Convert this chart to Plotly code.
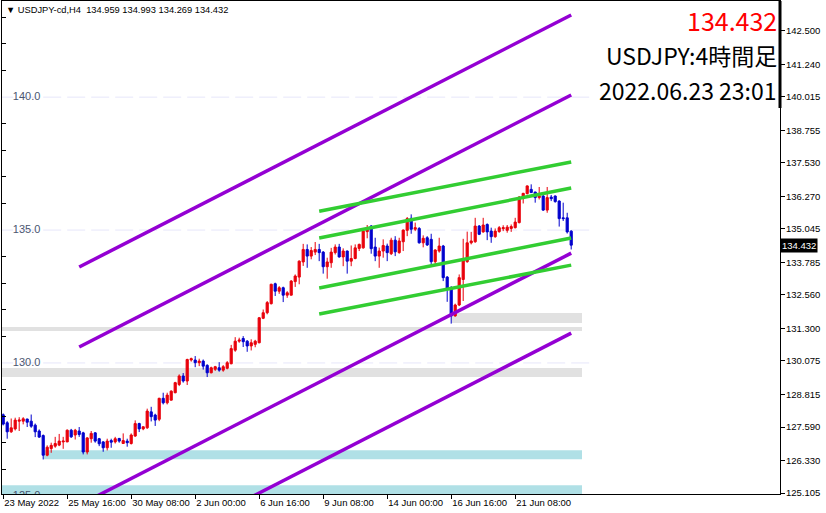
import plotly.graph_objects as go

# USDJPY-cd H4 candles, 23 May - 23 Jun 2022
opens = [128.05, 127.75, 127.41, 127.52, 127.81, 127.81, 127.89, 127.81, 127.66, 127.44,
         127.27, 126.53, 126.78, 126.87, 126.91, 127.03, 127.03, 127.47, 127.29, 127.44,
         127.37, 126.65, 127.15, 127.37, 127.15, 127.03, 126.81, 127.08, 127.03, 127.16,
         126.97, 127.06, 126.97, 127.25, 127.72, 127.52, 127.56, 128.16, 128.04, 127.88,
         128.67, 128.50, 128.60, 128.88, 129.19, 129.51, 129.32, 130.11, 130.11, 130.01,
         130.07, 129.91, 129.63, 129.76, 129.82, 129.73, 129.80, 129.97, 130.48, 130.82,
         130.92, 130.82, 130.64, 130.70, 130.76, 131.68, 131.89, 132.23, 132.98, 132.70,
         132.83, 132.55, 132.55, 133.06, 133.23, 133.80, 134.27, 134.02, 134.17, 134.27,
         134.17, 133.62, 133.77, 134.15, 134.36, 133.99, 134.21, 133.83, 133.93, 134.31,
         134.33, 134.94, 135.15, 134.36, 134.02, 134.21, 134.40, 134.11, 134.62, 134.15,
         134.56, 134.99, 135.44, 135.03, 135.06, 134.52, 134.71, 134.65, 133.81, 134.21,
         134.40, 133.23, 132.83, 131.77, 132.18, 133.14, 133.81, 134.52, 134.56, 135.15,
         134.93, 135.21, 134.96, 134.75, 134.94, 135.05, 134.99, 135.06, 135.09, 135.28,
         136.22, 136.37, 136.53, 136.43, 136.22, 136.28, 135.75, 136.24, 136.28, 136.09,
         135.46, 135.46, 134.959]
highs = [128.10, 127.81, 127.91, 127.94, 127.96, 127.96, 127.90, 128.06, 127.72, 127.50,
         127.31, 126.90, 127.00, 127.22, 127.33, 127.22, 127.50, 127.52, 127.52, 127.59,
         127.41, 127.21, 127.44, 127.40, 127.18, 127.06, 127.15, 127.15, 127.22, 127.18,
         127.35, 127.15, 127.35, 127.84, 127.75, 127.62, 128.28, 128.35, 128.09, 128.69,
         128.88, 128.88, 128.97, 129.29, 129.57, 129.62, 130.16, 130.20, 130.26, 130.16,
         130.13, 129.95, 129.86, 129.89, 130.03, 129.92, 130.07, 130.68, 130.97, 130.95,
         131.01, 130.86, 130.89, 130.87, 131.73, 132.01, 132.33, 132.98, 133.02, 132.89,
         132.87, 132.70, 133.12, 133.33, 133.86, 134.48, 134.46, 134.36, 134.55, 134.48,
         134.21, 133.96, 134.33, 134.46, 134.48, 134.31, 134.23, 134.42, 134.46, 134.49,
         134.99, 135.19, 135.19, 134.71, 134.34, 134.65, 134.49, 134.71, 134.77, 134.71,
         135.02, 135.49, 135.59, 135.28, 135.11, 134.80, 134.77, 134.86, 134.28, 134.71,
         134.44, 133.27, 132.89, 132.23, 133.33, 134.67, 134.94, 134.93, 135.46, 135.19,
         135.46, 135.25, 135.09, 135.06, 135.15, 135.18, 135.19, 135.21, 135.46, 136.28,
         136.40, 136.68, 136.72, 136.44, 136.62, 136.32, 136.62, 136.32, 136.30, 136.12,
         136.03, 135.65, 134.993]
lows = [127.65, 127.15, 127.37, 127.46, 127.44, 127.69, 127.59, 127.56, 127.21, 127.18,
        126.37, 126.49, 126.62, 126.81, 126.87, 126.77, 127.02, 127.18, 127.12, 127.22,
        126.56, 126.56, 127.00, 127.00, 126.87, 126.66, 126.71, 126.81, 126.97, 127.00,
        126.96, 126.85, 126.93, 127.22, 127.40, 127.47, 127.52, 127.80, 127.63, 127.81,
        128.44, 128.44, 128.59, 128.86, 129.13, 129.26, 129.17, 130.05, 129.84, 129.88,
        129.75, 129.47, 129.61, 129.70, 129.67, 129.67, 129.76, 129.95, 130.42, 130.76,
        130.60, 130.42, 130.47, 130.59, 130.74, 131.65, 131.83, 132.20, 132.52, 132.60,
        132.29, 132.45, 132.54, 132.86, 132.96, 133.65, 133.58, 133.90, 134.06, 133.83,
        133.36, 133.17, 133.58, 134.08, 133.96, 133.64, 133.36, 133.64, 133.90, 134.21,
        134.30, 134.69, 134.11, 133.83, 133.58, 133.96, 133.83, 134.06, 134.02, 134.11,
        134.21, 134.77, 134.86, 134.96, 134.49, 134.35, 134.40, 133.68, 133.71, 134.15,
        133.08, 132.30, 131.48, 131.74, 132.14, 132.33, 133.77, 134.46, 134.52, 134.81,
        134.90, 134.62, 134.52, 134.71, 134.90, 134.96, 134.90, 134.93, 135.06, 135.25,
        136.00, 136.34, 136.40, 136.03, 136.15, 135.72, 135.65, 136.09, 136.03, 135.13,
        135.34, 134.87, 134.269]
closes = [127.70, 127.41, 127.56, 127.85, 127.85, 127.90, 127.77, 127.62, 127.41, 127.21,
          126.53, 126.83, 126.90, 126.97, 127.06, 127.06, 127.47, 127.22, 127.47, 127.31,
          126.65, 127.18, 127.35, 127.06, 126.96, 126.81, 127.06, 127.02, 127.15, 127.06,
          127.08, 127.00, 127.29, 127.72, 127.52, 127.60, 128.19, 127.98, 127.85, 128.67,
          128.50, 128.79, 128.94, 129.26, 129.51, 129.32, 130.13, 130.16, 130.01, 130.07,
          129.88, 129.63, 129.82, 129.86, 129.73, 129.86, 130.01, 130.54, 130.82, 130.86,
          130.80, 130.64, 130.76, 130.82, 131.70, 131.89, 132.27, 132.96, 132.70, 132.83,
          132.55, 132.64, 133.08, 133.27, 133.83, 134.27, 134.02, 134.23, 134.27, 134.15,
          133.62, 133.80, 134.17, 134.36, 133.99, 134.21, 133.83, 133.93, 134.33, 134.46,
          134.96, 135.05, 134.30, 134.02, 134.21, 134.42, 134.15, 134.62, 134.18, 134.59,
          135.00, 135.43, 135.03, 135.09, 134.52, 134.69, 134.44, 133.81, 134.25, 134.40,
          133.21, 132.81, 131.77, 132.18, 133.21, 133.86, 134.52, 134.59, 135.15, 134.84,
          135.19, 134.93, 134.75, 134.96, 135.09, 135.09, 135.11, 135.13, 135.30, 136.24,
          136.38, 136.66, 136.41, 136.22, 136.28, 135.75, 136.22, 136.18, 136.07, 135.43,
          135.43, 134.93, 134.432]
bars = list(range(len(closes)))

# time axis labels (every 16 bars)
tick_bars = [0, 16, 32, 48, 64, 80, 96, 112, 128]
tick_labels = ['23 May 2022', '25 May 16:00', '30 May 08:00', '2 Jun 00:00', '6 Jun 16:00',
               '9 Jun 08:00', '14 Jun 00:00', '16 Jun 16:00', '21 Jun 08:00']

# price scale on the right
price_ticks = [142.500, 141.240, 140.015, 138.755, 137.530, 136.270, 135.045, 133.785,
               132.560, 131.300, 130.075, 128.815, 127.590, 126.330, 125.105]

# round-number levels (dashed lines with labels)
levels = [140.0, 135.0, 130.0, 125.0]

# purple channel (4 parallel lines) and green channel (4 parallel lines)
purple_bars = [19, 142]
purple_start = [133.61, 130.60, 124.65, 121.64]
purple_end = [143.09, 140.08, 134.13, 131.12]
green_bars = [79, 142]
green_start = [135.71, 134.70, 132.82, 131.84]
green_end = [137.56, 136.58, 134.70, 133.68]

# support / resistance zones
zone_low = [126.38, 124.90, 131.20, 129.47, 131.50]
zone_high = [126.72, 125.40, 131.35, 129.81, 131.88]
zone_from = [10, -2, -2, -2, 112]
zone_to = 144.7
zone_colors = ['#B0E0E6', '#B0E0E6', '#E1E1E1', '#E1E1E1', '#E1E1E1']

RED = '#E8000B'
BLUE = '#0000CD'
FONT = 'Liberation Sans'

fig = go.Figure()

fig.add_trace(go.Candlestick(
    x=bars, open=opens, high=highs, low=lows, close=closes,
    increasing=dict(line=dict(color=RED, width=1), fillcolor=RED),
    decreasing=dict(line=dict(color=BLUE, width=1), fillcolor=BLUE),
    whiskerwidth=0, showlegend=False, hoverinfo='skip'
))

for s, e in zip(purple_start, purple_end):
    fig.add_trace(go.Scatter(x=purple_bars, y=[s, e], mode='lines',
                             line=dict(color='#9400D3', width=3.5),
                             showlegend=False, hoverinfo='skip'))
for s, e in zip(green_start, green_end):
    fig.add_trace(go.Scatter(x=green_bars, y=[s, e], mode='lines',
                             line=dict(color='#32CD32', width=3.5),
                             showlegend=False, hoverinfo='skip'))

# level labels, clipped by the plot area like the original
fig.add_trace(go.Scatter(x=[2.4] * len(levels), y=levels, mode='text',
                         text=[f'{v:.1f}' for v in levels], textposition='middle right',
                         textfont=dict(family=FONT, size=11, color='#4B5670'),
                         showlegend=False, hoverinfo='skip', cliponaxis=True))

# invisible trace to hold the left-side tick scale
fig.add_trace(go.Scatter(x=[0], y=[135], yaxis='y2', mode='markers',
                         marker=dict(opacity=0), showlegend=False, hoverinfo='skip'))

for lo, hi, x0, c in zip(zone_low, zone_high, zone_from, zone_colors):
    fig.add_shape(type='rect', xref='x', yref='y', x0=x0, x1=zone_to, y0=lo, y1=hi,
                  fillcolor=c, line=dict(width=0), layer='below')

for v in levels:
    fig.add_shape(type='line', xref='x', yref='y', x0=-2, x1=146.7, y0=v, y1=v,
                  line=dict(color='#E6E6FA', width=1, dash='18px,6px'), layer='below')

# thick segment on the price scale line at the top
fig.add_shape(type='line', xref='paper', yref='paper', x0=1.0, x1=1.0, y0=0.783, y1=1.0,
              line=dict(color='black', width=3))

y_range = [125.07, 143.617]

fig.update_layout(
    width=826, height=513,
    margin=dict(l=2, r=46, t=1, b=19),
    paper_bgcolor='white', plot_bgcolor='white',
    boxgap=0.4, boxgroupgap=0.1,
    xaxis=dict(range=[-0.3, 194.2], rangeslider=dict(visible=False),
               tickvals=tick_bars, ticktext=tick_labels, ticks='outside', ticklen=4,
               tickcolor='black', ticklabelposition='outside right', tickangle=0,
               tickfont=dict(family=FONT, size=9.5, color='black'),
               showgrid=False, zeroline=False, showline=True, linecolor='black',
               linewidth=1, mirror=True, fixedrange=True, automargin=False),
    yaxis=dict(range=y_range, side='right', tickvals=price_ticks,
               ticktext=[f'{v:.3f}' for v in price_ticks], ticks='outside', ticklen=4,
               tickcolor='black', tickfont=dict(family=FONT, size=9.5, color='black'),
               ticklabelstandoff=-1,
               showgrid=False, zeroline=False, showline=True, linecolor='black',
               linewidth=1, mirror=True, fixedrange=True, automargin=False),
    yaxis2=dict(range=y_range, overlaying='y', side='left',
                tickvals=[v for v in range(126, 144) if v % 5 != 0], ticks='inside',
                ticklen=4, tickcolor='black', showticklabels=False, showgrid=False,
                zeroline=False, showline=False, fixedrange=True),
)

last = closes[-1]
header = ('\u25BC USDJPY-cd,H4\u00a0\u00a0' +
          f'{opens[-1]:.3f} {highs[-1]:.3f} {lows[-1]:.3f} {closes[-1]:.3f}')
fig.add_annotation(xref='paper', yref='paper', x=0, y=0.982, xanchor='left',
                   yanchor='middle', xshift=2, text=header, showarrow=False,
                   font=dict(family=FONT, size=9.3, color='black'))

# current price marker on the price scale
fig.add_annotation(xref='paper', yref='y', x=1.0, y=last, xanchor='left', yanchor='middle',
                   xshift=0, text=f'{last:.3f}', showarrow=False, bgcolor='black',
                   borderpad=1, font=dict(family=FONT, size=9.5, color='white'))

big = 'Noto Sans CJK JP'
fig.add_annotation(xref='paper', yref='paper', x=1.0, y=0.961, xanchor='right',
                   yanchor='middle', xshift=-1, text=f'{last:.3f}', showarrow=False,
                   font=dict(family=big, size=25, color='#FF0000'))
fig.add_annotation(xref='paper', yref='paper', x=1.0, y=0.890, xanchor='right',
                   yanchor='middle', xshift=-1, text='USDJPY:4時間足', showarrow=False,
                   font=dict(family=big, size=23, color='black'))
fig.add_annotation(xref='paper', yref='paper', x=1.0, y=0.819, xanchor='right',
                   yanchor='middle', xshift=-1, text='2022.06.23 23:01', showarrow=False,
                   font=dict(family=big, size=23, color='black'))

# page body margin off, so the figure sits at the window's corner
fig.write_html('out.html', config={'displayModeBar': False},
               post_script="document.body.style.margin='0';")
